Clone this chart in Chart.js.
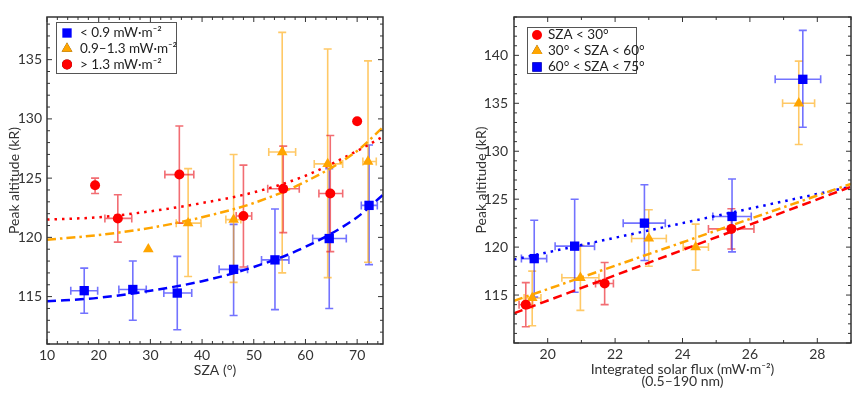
<!DOCTYPE html>
<html>
<head>
<meta charset="utf-8">
<script src="https://cdn.jsdelivr.net/npm/chart.js@4.4.1/dist/chart.umd.min.js"></script>
<style>
  body { margin: 0; background: #fff; }
  #wrap { position: relative; width: 865px; height: 396px; }
  #left { position: absolute; left: 0; top: 0; }
  #right { position: absolute; left: 430px; top: 0; }
</style>
</head>
<body>
<div id="wrap">
  <canvas id="left" width="430" height="396"></canvas>
  <canvas id="right" width="435" height="396"></canvas>
</div>
<script>
// ---------- Panneau gauche : altitude vs SZA ----------
const leftXTicks = [10, 20, 30, 40, 50, 60, 70];
const leftYTicks = [115, 120, 125, 130, 135];
const leftLegend = ['< 0.9 mW·m⁻²', '0.9–1.3 mW·m⁻²', '> 1.3 mW·m⁻²'];

// < 0.9 mW·m-2 (carrés bleus)
const lowSza = [17.2, 26.6, 35.2, 46.1, 54.1, 64.6, 72.3];
const lowAlt = [115.5, 115.6, 115.3, 117.3, 118.1, 119.9, 122.7];
const lowAltLo = [113.6, 113.0, 112.2, 113.4, 113.9, 114.0, 117.7];
const lowAltHi = [117.4, 118.0, 118.4, 121.1, 122.4, 125.8, 127.8];
const lowSzaLo = [14.6, 23.9, 32.6, 43.3, 51.5, 61.4, 70.8];
const lowSzaHi = [19.8, 29.2, 38.0, 48.8, 56.8, 67.9, 73.9];

// 0.9-1.3 mW·m-2 (triangles orange)
const midSza = [29.6, 37.3, 46.1, 55.5, 64.3, 72.1];
const midAlt = [119.0, 121.2, 121.5, 127.2, 126.2, 126.4];
const midAltLo = [null, 116.7, 116.2, 117.0, 116.6, 117.9];
const midAltHi = [null, 125.8, 127.0, 137.3, 135.9, 134.9];
const midSzaLo = [null, 35.0, 44.6, 52.9, 61.7, 71.1];
const midSzaHi = [null, 39.8, 47.5, 58.1, 67.2, 73.7];

// > 1.3 mW·m-2 (cercles rouges)
const highSza = [19.3, 23.7, 35.6, 48.0, 55.7, 64.8, 70.0];
const highAlt = [124.4, 121.6, 125.3, 121.8, 124.1, 123.7, 129.8];
const highAltLo = [123.7, 119.6, 121.2, 117.5, 120.4, 118.8, null];
const highAltHi = [125.0, 123.6, 129.4, 126.1, 127.7, 128.6, null];
const highSzaLo = [null, 21.2, 32.8, 46.6, 52.7, 62.6, null];
const highSzaHi = [null, 26.4, 38.4, 49.6, 58.8, 67.2, null];

// courbes d'ajustement
const fitSza = [10, 20, 30, 40, 50, 60, 70, 75];
const fitLow = [114.6, 114.9, 115.5, 116.3, 117.5, 119.2, 121.7, 123.6];
const fitMid = [119.8, 120.2, 120.8, 121.7, 122.9, 124.7, 127.3, 129.3];
const fitHigh = [121.5, 121.7, 122.2, 122.9, 123.8, 125.2, 127.3, 128.5];

// ---------- Panneau droit : altitude vs flux solaire ----------
const rightXTicks = [20, 22, 24, 26, 28];
const rightYTicks = [115, 120, 125, 130, 135, 140];
const rightLegend = ['SZA < 30°', '30° < SZA < 60°', '60° < SZA < 75°'];

const smallFlux = [19.35, 21.69, 25.45];
const smallAlt = [114.0, 116.2, 121.9];
const smallAltLo = [111.7, 114.0, 119.8];
const smallAltHi = [116.3, 118.4, 124.0];
const smallFluxLo = [19.15, 21.42, 24.77];
const smallFluxHi = [19.55, 21.95, 26.12];

const medFlux = [19.54, 20.97, 23.0, 24.39, 27.45];
const medAlt = [114.7, 116.8, 120.9, 120.0, 135.0];
const medAltLo = [111.8, 113.4, 118.0, 117.6, 130.7];
const medAltHi = [117.5, 120.2, 123.9, 122.4, 139.4];
const medFluxLo = [19.3, 20.42, 22.49, 24.02, 26.97];
const medFluxHi = [19.8, 21.52, 23.52, 24.77, 27.92];

const largeFlux = [19.6, 20.8, 22.87, 25.47, 27.57];
const largeAlt = [118.8, 120.1, 122.5, 123.2, 137.5];
const largeAltLo = [114.8, 115.3, 118.6, 119.5, 132.5];
const largeAltHi = [122.8, 125.0, 126.5, 127.1, 142.6];
const largeFluxLo = [19.22, 20.22, 22.24, 24.9, 26.75];
const largeFluxHi = [19.97, 21.39, 23.49, 26.04, 28.1];

const fitFlux = [19, 29];
const fitSmall = [113.1, 126.3];
const fitMed = [114.4, 126.6];
const fitLarge = [118.7, 126.3];

// ---------- Style ----------
const BLUE = '#0000ff', ORANGE = '#ffa500', RED = '#ff0000';
const FONT = 'Lato, "Open Sans", sans-serif';
Chart.defaults.font.family = FONT;
Chart.defaults.font.size = 13;
Chart.defaults.color = '#333';

const SQ = 6.6, TRI = 6.2, DOT = 5;

const pts = (xs, ys) => xs.map((v, i) => ({ x: v, y: ys[i] }));

function markers(label, xs, ys, style, color, radius, err) {
  return {
    type: 'scatter', label, data: pts(xs, ys), order: 0,
    pointStyle: style, pointRadius: radius, pointHoverRadius: radius,
    backgroundColor: color, borderColor: color, borderWidth: 0, err
  };
}

function fitLine(xs, ys, color, dash) {
  return {
    type: 'line', data: pts(xs, ys), order: 1,
    borderColor: color, borderWidth: 2.5, borderDash: dash,
    pointRadius: 0, fill: false, cubicInterpolationMode: 'monotone'
  };
}

// Barres d'erreur
const errorBars = {
  id: 'errorBars',
  beforeDatasetsDraw(chart) {
    const { ctx, scales: { x, y } } = chart;
    chart.data.datasets.forEach(ds => {
      if (!ds.err) return;
      const e = ds.err;
      ctx.save();
      ctx.strokeStyle = e.color;
      ctx.lineWidth = 1.6;
      ds.data.forEach((p, i) => {
        const px = x.getPixelForValue(p.x), py = y.getPixelForValue(p.y);
        ctx.beginPath();
        if (e.yLo[i] != null) {
          const a = y.getPixelForValue(e.yLo[i]), b = y.getPixelForValue(e.yHi[i]);
          ctx.moveTo(px, a); ctx.lineTo(px, b);
          ctx.moveTo(px - 4, a); ctx.lineTo(px + 4, a);
          ctx.moveTo(px - 4, b); ctx.lineTo(px + 4, b);
        }
        if (e.xLo[i] != null) {
          const a = x.getPixelForValue(e.xLo[i]), b = x.getPixelForValue(e.xHi[i]);
          ctx.moveTo(a, py); ctx.lineTo(b, py);
          ctx.moveTo(a, py - 4); ctx.lineTo(a, py + 4);
          ctx.moveTo(b, py - 4); ctx.lineTo(b, py + 4);
        }
        ctx.stroke();
      });
      ctx.restore();
    });
  }
};

// Cadre, graduations internes et légende
const frame = {
  id: 'frame',
  afterDraw(chart, args, opts) {
    const { ctx, chartArea: a, scales: { x, y } } = chart;
    ctx.save();
    ctx.strokeStyle = '#333';
    ctx.lineWidth = 1.5;
    ctx.strokeRect(a.left, a.top, a.right - a.left, a.bottom - a.top);
    ctx.lineWidth = 1;
    ctx.beginPath();
    for (let v = x.min; v <= x.max + 1e-6; v += opts.xMinor) {
      const px = x.getPixelForValue(v);
      const major = Math.abs(v / opts.xMajor - Math.round(v / opts.xMajor)) < 1e-6;
      const len = major ? 5 : 3;
      ctx.moveTo(px, a.bottom); ctx.lineTo(px, a.bottom - len);
      ctx.moveTo(px, a.top); ctx.lineTo(px, a.top + len);
    }
    for (let v = Math.ceil(y.min); v <= y.max + 1e-6; v += opts.yMinor) {
      const py = y.getPixelForValue(v);
      const major = v % opts.yMajor === 0;
      const len = major ? 5 : 3;
      ctx.moveTo(a.left, py); ctx.lineTo(a.left + len, py);
      ctx.moveTo(a.right, py); ctx.lineTo(a.right - len, py);
    }
    ctx.stroke();

    // légende
    const L = opts.legend;
    ctx.fillStyle = '#fff';
    ctx.fillRect(L.x, L.y, L.w, L.h);
    ctx.strokeStyle = '#555';
    ctx.lineWidth = 1;
    ctx.strokeRect(L.x + 0.5, L.y + 0.5, L.w, L.h);
    ctx.font = '13.5px ' + FONT;
    ctx.textBaseline = 'middle';
    L.items.forEach((it, i) => {
      const cy = L.y + L.first + i * L.step;
      Chart.helpers.drawPoint(ctx, { pointStyle: it.style, radius: it.radius, rotation: 0, borderWidth: 0 },
        L.x + L.mx, cy);
      ctx.fillStyle = it.color;
      ctx.fill();
      ctx.fillStyle = '#222';
      ctx.fillText(it.text, L.x + L.tx, cy);
    });
    ctx.restore();
  }
};

function baseOptions(cfg) {
  return {
    responsive: false,
    animation: false,
    devicePixelRatio: 1,
    layout: { padding: { top: 17, right: cfg.padRight, left: 0, bottom: 0 } },
    plugins: {
      legend: { display: false },
      tooltip: { enabled: false },
      frame: cfg.frame
    },
    scales: {
      x: {
        type: 'linear', min: cfg.xMin, max: cfg.xMax,
        grid: { display: false, drawTicks: false },
        border: { display: false },
        afterFit: s => { s.height = cfg.xHeight; },
        afterBuildTicks: s => { s.ticks = cfg.xTicks.map(v => ({ value: v })); },
        ticks: { padding: 3, color: '#333', font: { size: 14 } },
        title: { display: true, text: cfg.xTitle, color: '#333',
          font: { size: 14, lineHeight: cfg.xTitleLH }, padding: { bottom: cfg.xTitlePad, top: 0 } }
      },
      y: {
        type: 'linear', min: cfg.yMin, max: cfg.yMax,
        grid: { display: false, drawTicks: false },
        border: { display: false },
        afterFit: s => { s.width = cfg.yWidth; },
        afterBuildTicks: s => { s.ticks = cfg.yTicks.map(v => ({ value: v })); },
        ticks: { padding: cfg.yPad, color: '#333', font: { size: 14 } },
        title: { display: true, text: 'Peak altitude (kR)', color: '#333',
          font: { size: 14 }, padding: { top: cfg.yTitlePad, bottom: 0 } }
      }
    }
  };
}

// ----- Graphique gauche -----
new Chart(document.getElementById('left'), {
  data: {
    datasets: [
      markers('< 0.9', lowSza, lowAlt, 'rect', BLUE, SQ,
        { color: 'rgba(40,40,255,0.65)', yLo: lowAltLo, yHi: lowAltHi, xLo: lowSzaLo, xHi: lowSzaHi }),
      markers('0.9-1.3', midSza, midAlt, 'triangle', ORANGE, TRI,
        { color: 'rgba(255,165,0,0.6)', yLo: midAltLo, yHi: midAltHi, xLo: midSzaLo, xHi: midSzaHi }),
      markers('> 1.3', highSza, highAlt, 'circle', RED, DOT,
        { color: 'rgba(235,30,40,0.65)', yLo: highAltLo, yHi: highAltHi, xLo: highSzaLo, xHi: highSzaHi }),
      fitLine(fitSza, fitLow, BLUE, [9, 5]),
      fitLine(fitSza, fitMid, ORANGE, [9, 4, 2.5, 4]),
      fitLine(fitSza, fitHigh, RED, [2.5, 5])
    ]
  },
  options: baseOptions({
    padRight: 47, xMin: 10, xMax: 75, yMin: 111, yMax: 138.6,
    xTicks: leftXTicks, yTicks: leftYTicks, xHeight: 52, yWidth: 47, yPad: 5,
    xTitle: 'SZA (°)', xTitleLH: 1.2, xTitlePad: 17, yTitlePad: 6,
    frame: {
      xMinor: 2, xMajor: 10, yMinor: 1, yMajor: 5,
      legend: { x: 56, y: 22, w: 120, h: 51, first: 11, step: 15.7, mx: 11, tx: 24,
        items: [
          { text: leftLegend[0], style: 'rect', radius: SQ, color: BLUE },
          { text: leftLegend[1], style: 'triangle', radius: TRI, color: ORANGE },
          { text: leftLegend[2], style: 'circle', radius: DOT, color: RED }
        ] }
    }
  }),
  plugins: [errorBars, frame]
});

// ----- Graphique droit -----
new Chart(document.getElementById('right'), {
  data: {
    datasets: [
      markers('SZA < 30', smallFlux, smallAlt, 'circle', RED, DOT,
        { color: 'rgba(235,30,40,0.65)', yLo: smallAltLo, yHi: smallAltHi, xLo: smallFluxLo, xHi: smallFluxHi }),
      markers('30-60', medFlux, medAlt, 'triangle', ORANGE, TRI,
        { color: 'rgba(255,165,0,0.6)', yLo: medAltLo, yHi: medAltHi, xLo: medFluxLo, xHi: medFluxHi }),
      markers('60-75', largeFlux, largeAlt, 'rect', BLUE, SQ,
        { color: 'rgba(40,40,255,0.65)', yLo: largeAltLo, yHi: largeAltHi, xLo: largeFluxLo, xHi: largeFluxHi }),
      fitLine(fitFlux, fitSmall, RED, [9, 5]),
      fitLine(fitFlux, fitMed, ORANGE, [9, 4, 2.5, 4]),
      fitLine(fitFlux, fitLarge, BLUE, [2.5, 5])
    ]
  },
  options: baseOptions({
    padRight: 14, xMin: 19, xMax: 29, yMin: 110, yMax: 144,
    xTicks: rightXTicks, yTicks: rightYTicks, xHeight: 53, yWidth: 84, yPad: 6,
    xTitle: ['Integrated solar flux (mW·m⁻²)', '(0.5–190 nm)'], xTitleLH: 0.9, xTitlePad: 8, yTitlePad: 43,
    frame: {
      xMinor: 1, xMajor: 2, yMinor: 1, yMajor: 5,
      legend: { x: 97, y: 27, w: 109, h: 46, first: 8, step: 16, mx: 10, tx: 21,
        items: [
          { text: rightLegend[0], style: 'circle', radius: DOT, color: RED },
          { text: rightLegend[1], style: 'triangle', radius: TRI, color: ORANGE },
          { text: rightLegend[2], style: 'rect', radius: SQ, color: BLUE }
        ] }
    }
  }),
  plugins: [errorBars, frame]
});
</script>
</body>
</html>
